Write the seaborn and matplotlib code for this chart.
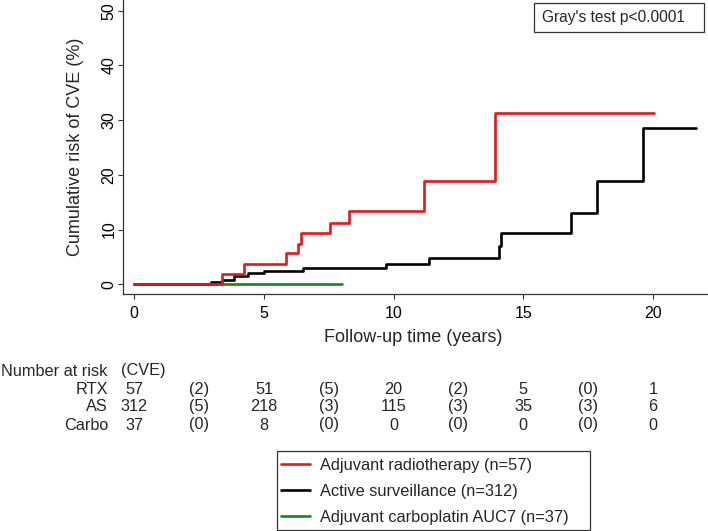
import numpy as np
import pandas as pd
import matplotlib
matplotlib.use('Agg')
import matplotlib.pyplot as plt
from matplotlib.patches import Rectangle
from matplotlib.transforms import blended_transform_factory
import seaborn as sns

# cumulative incidence curves (years, %)
rtx_time = [0, 3.39, 4.24, 5.86, 6.33, 6.44, 7.53, 8.27, 11.19, 13.91, 20.03]
rtx_cum = [0, 1.9, 3.7, 5.7, 7.4, 9.3, 11.2, 13.4, 18.9, 31.3, 31.3]

as_time = [0, 2.96, 3.39, 3.83, 4.40, 5.02, 6.50, 9.71, 11.38, 14.07, 14.14,
           16.83, 17.85, 19.64, 21.66]
as_cum = [0, 0.4, 0.8, 1.5, 2.0, 2.4, 3.0, 3.7, 4.9, 7.0, 9.4,
          13.0, 18.8, 28.6, 28.6]

carbo_time = [0, 8.03]
carbo_cum = [0, 0]

groups = ['Adjuvant radiotherapy (n=57)', 'Active surveillance (n=312)',
          'Adjuvant carboplatin AUC7 (n=37)']
colors = ['#e3181d', '#000000', '#13861a']

# number at risk table
risk_times = [0, 5, 10, 15, 20]
row_names = ['RTX', 'AS', 'Carbo']
rtx_risk = [57, 51, 20, 5, 1]
rtx_cve = [2, 5, 2, 0]
as_risk = [312, 218, 115, 35, 6]
as_cve = [5, 3, 3, 3]
carbo_risk = [37, 8, 0, 0, 0]
carbo_cve = [0, 0, 0, 0]

df = pd.concat([
    pd.DataFrame({'time': rtx_time, 'cum': rtx_cum, 'group': groups[0]}),
    pd.DataFrame({'time': as_time, 'cum': as_cum, 'group': groups[1]}),
    pd.DataFrame({'time': carbo_time, 'cum': carbo_cum, 'group': groups[2]}),
])

sns.set_theme(style='ticks')
plt.rcParams['font.family'] = ['Liberation Sans', 'DejaVu Sans']

W, H = 708, 531
fig = plt.figure(figsize=(W / 100, H / 100), dpi=100)
ax = fig.add_axes([123 / W, 1 - 294 / H, 584 / W, 294 / H])

sns.lineplot(data=df, x='time', y='cum', hue='group', hue_order=groups,
             palette=colors, estimator=None, sort=False,
             drawstyle='steps-post', linewidth=1.9, legend=False, ax=ax)
# red on top, green underneath
for ln, z in zip(ax.lines, [3.0, 2.5, 2.0]):
    ln.set_zorder(z)

ax.set_xlim(-0.436, 22.09)
ax.set_ylim(-1.77, 51.96)
ax.set_xticks(risk_times)
ax.set_yticks([0, 10, 20, 30, 40, 50])
sns.despine(ax=ax)
for sp in ['left', 'bottom']:
    ax.spines[sp].set_color('#333333')
    ax.spines[sp].set_linewidth(0.9)
ax.tick_params(axis='both', direction='out', length=3.6, width=0.8,
               color='#333333', labelsize=11.5, labelcolor='black')
ax.tick_params(axis='x', pad=5)
ax.tick_params(axis='y', pad=1)
plt.setp(ax.get_yticklabels(), rotation=90, va='center')

ax.set_xlabel('Follow-up time (years)', fontsize=13)
ax.set_ylabel('Cumulative risk of CVE (%)', fontsize=13)
ax.xaxis.set_label_coords(0.497, (294 - 337) / 294)
ax.xaxis.label.set_va('center')
ax.yaxis.set_label_coords((76 - 123) / 584, 0.5)
ax.yaxis.label.set_va('center')

# Gray's test box
fig.add_artist(Rectangle((534 / W, 1 - 32 / H), 170 / W, 29 / H,
                         transform=fig.transFigure, fill=False,
                         ec='#333333', lw=0.9))
fig.text(613.5 / W, 1 - 17.5 / H, "Gray's test p<0.0001", fontsize=11.2,
         ha='center', va='center')

# number at risk table under the axis
trans = blended_transform_factory(ax.transData, fig.transFigure)
tfs = 11.7
fig.text(107 / W, 1 - 371 / H, 'Number at risk', fontsize=tfs,
         ha='right', va='center')
fig.text(121 / W, 1 - 371 / H, '(CVE)', fontsize=tfs, ha='left', va='center')
row_y = [389.5, 406.5, 425]
for name, risk, cve, py in zip(row_names, [rtx_risk, as_risk, carbo_risk],
                               [rtx_cve, as_cve, carbo_cve], row_y):
    fig.text(108 / W, 1 - py / H, name, fontsize=tfs, ha='right', va='center')
    for t, n in zip(risk_times, risk):
        ax.text(t, 1 - py / H, str(n), transform=trans, fontsize=tfs,
                ha='center', va='center', clip_on=False)
    for t0, t1, c in zip(risk_times[:-1], risk_times[1:], cve):
        ax.text((t0 + t1) / 2, 1 - py / H, '(%d)' % c, transform=trans,
                fontsize=tfs, ha='center', va='center', clip_on=False)

# legend with its own frame
fig.add_artist(Rectangle((277 / W, 1 - 530 / H), 313 / W, 79 / H,
                         transform=fig.transFigure, fill=False,
                         ec='#333333', lw=0.9))
fig.legend(ax.lines[:3], groups, loc='upper left',
           bbox_to_anchor=(281 / W, 1 - 458 / H), frameon=False,
           borderpad=0, borderaxespad=0, handlelength=1.75,
           handletextpad=0.65, labelspacing=0.66, fontsize=11.8)

fig.savefig('out.png', dpi=100)
